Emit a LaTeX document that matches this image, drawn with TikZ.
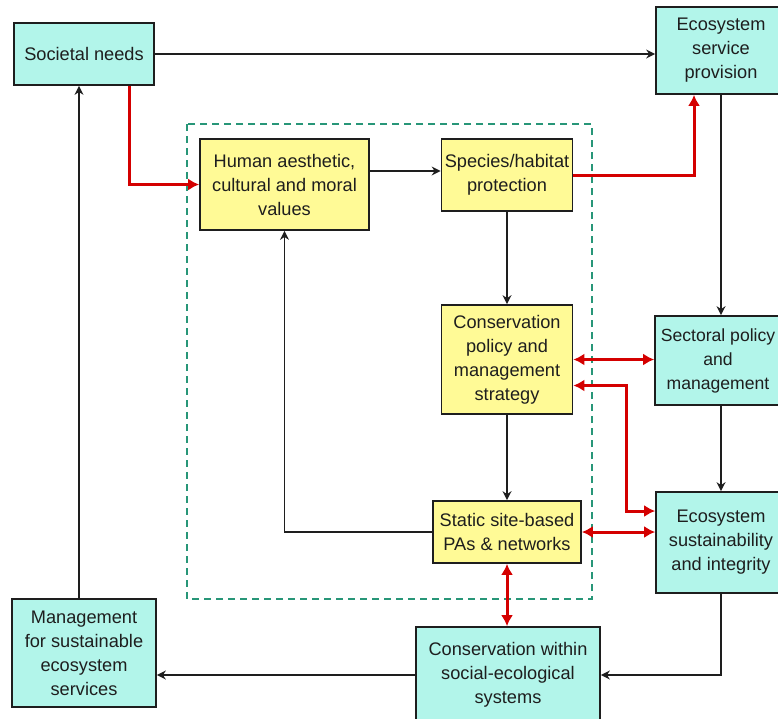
\documentclass[tikz,border=0pt]{standalone}
\usepackage{fontspec}
\setmainfont{Liberation Sans}
\usetikzlibrary{arrows.meta}
\definecolor{boxcyan}{RGB}{178,245,234}
\definecolor{boxyellow}{RGB}{255,250,150}
\definecolor{linkred}{RGB}{212,0,0}
\definecolor{zonegreen}{RGB}{40,150,120}
\definecolor{inkgray}{RGB}{30,30,30}
\tikzset{
  basebox/.style={draw=inkgray, line width=1.7pt, align=center, inner sep=1pt,
    font=\fontsize{18.2}{24}\selectfont, text=inkgray},
  cbox/.style={basebox, fill=boxcyan},
  ybox/.style={basebox, fill=boxyellow},
  blk/.style={draw=inkgray, line width=1.9pt, -{Stealth[length=9pt,width=9pt]}},
  redlink/.style={draw=linkred, line width=3pt, -{Latex[length=11pt,width=12pt]}},
  redboth/.style={draw=linkred, line width=3pt, {Latex[length=11pt,width=12pt]}-{Latex[length=11pt,width=12pt]}},
  zone/.style={draw=zonegreen, line width=1.1pt, dash pattern=on 7pt off 5pt}
}
\begin{document}
\begin{tikzpicture}[x=1pt,y=-1pt]
\useasboundingbox (0,0) rectangle (778,718);
\fill[white] (0,0) rectangle (778,718);

% conservation zone
\draw[zone] (187,124) rectangle (592,599);

% outer boxes
\node[cbox, minimum width=140pt, minimum height=62pt] (soc) at (84,54) {Societal needs};
\node[cbox, minimum width=130pt, minimum height=87pt] (esp) at (721,50.5) {Ecosystem\\service\\provision};
\node[cbox, minimum width=126pt, minimum height=89pt, font=\fontsize{17.6}{24}\selectfont] (sec) at (718,360.5) {Sectoral policy\\and\\management};
\node[cbox, minimum width=130pt, minimum height=101pt] (esi) at (721,542.5) {Ecosystem\\sustainability\\and integrity};
\node[cbox, minimum width=184pt, minimum height=96pt] (cws) at (508,675) {Conservation within\\social-ecological\\systems};
\node[cbox, minimum width=144pt, minimum height=108pt] (man) at (84,653) {Management\\for sustainable\\ecosystem\\services};

% inner boxes
\node[ybox, minimum width=169pt, minimum height=91pt] (hum) at (284.5,184.5) {Human aesthetic,\\cultural and moral\\values};
\node[ybox, minimum width=131pt, minimum height=72pt] (spe) at (507,175) {Species/habitat\\protection};
\node[ybox, minimum width=131pt, minimum height=109pt] (cpm) at (507,359.5) {Conservation\\policy and\\management\\strategy};
\node[ybox, minimum width=148pt, minimum height=62pt] (sta) at (507,532) {Static site-based\\PAs \& networks};

% black connectors
\draw[blk] (soc.east) -- (esp.west |- soc.east);
\coordinate (hs) at ([yshift=4pt]spe.west);
\draw[blk] (hum.east |- hs) -- (hs);
\draw[blk] (spe.south) -- (cpm.north);
\draw[blk] (cpm.south) -- (sta.north);
\draw[blk] (esp.south) -- (esp.south |- sec.north);
\draw[blk] (esp.south |- sec.south) -- (esi.north);
\draw[blk] (sta.west) -| (hum.south);
\draw[blk] (esi.south) |- (cws.east);
\draw[blk] (cws.west) -- (man.east |- cws.west);
\coordinate (mn) at ([xshift=-5pt]man.north);
\draw[blk] (mn) -- (mn |- soc.south);

% red connectors
\draw[redlink] ([xshift=45pt]soc.south) |- (hum.west);
\draw[redlink] (spe.east) -| ([xshift=-27pt]esp.south);
\draw[redboth] (cpm.east) -- (sec.west |- cpm.east);
\coordinate (c1) at ([yshift=-26pt]cpm.east);
\coordinate (e1) at ([yshift=31.5pt]esi.west);
\draw[redboth] (c1) -- ++(53,0) |- (e1);
\draw[redboth] (sta.east) -- (esi.west |- sta.east);
\draw[redboth] (sta.south) -- (sta.south |- cws.north);
\end{tikzpicture}
\end{document}
